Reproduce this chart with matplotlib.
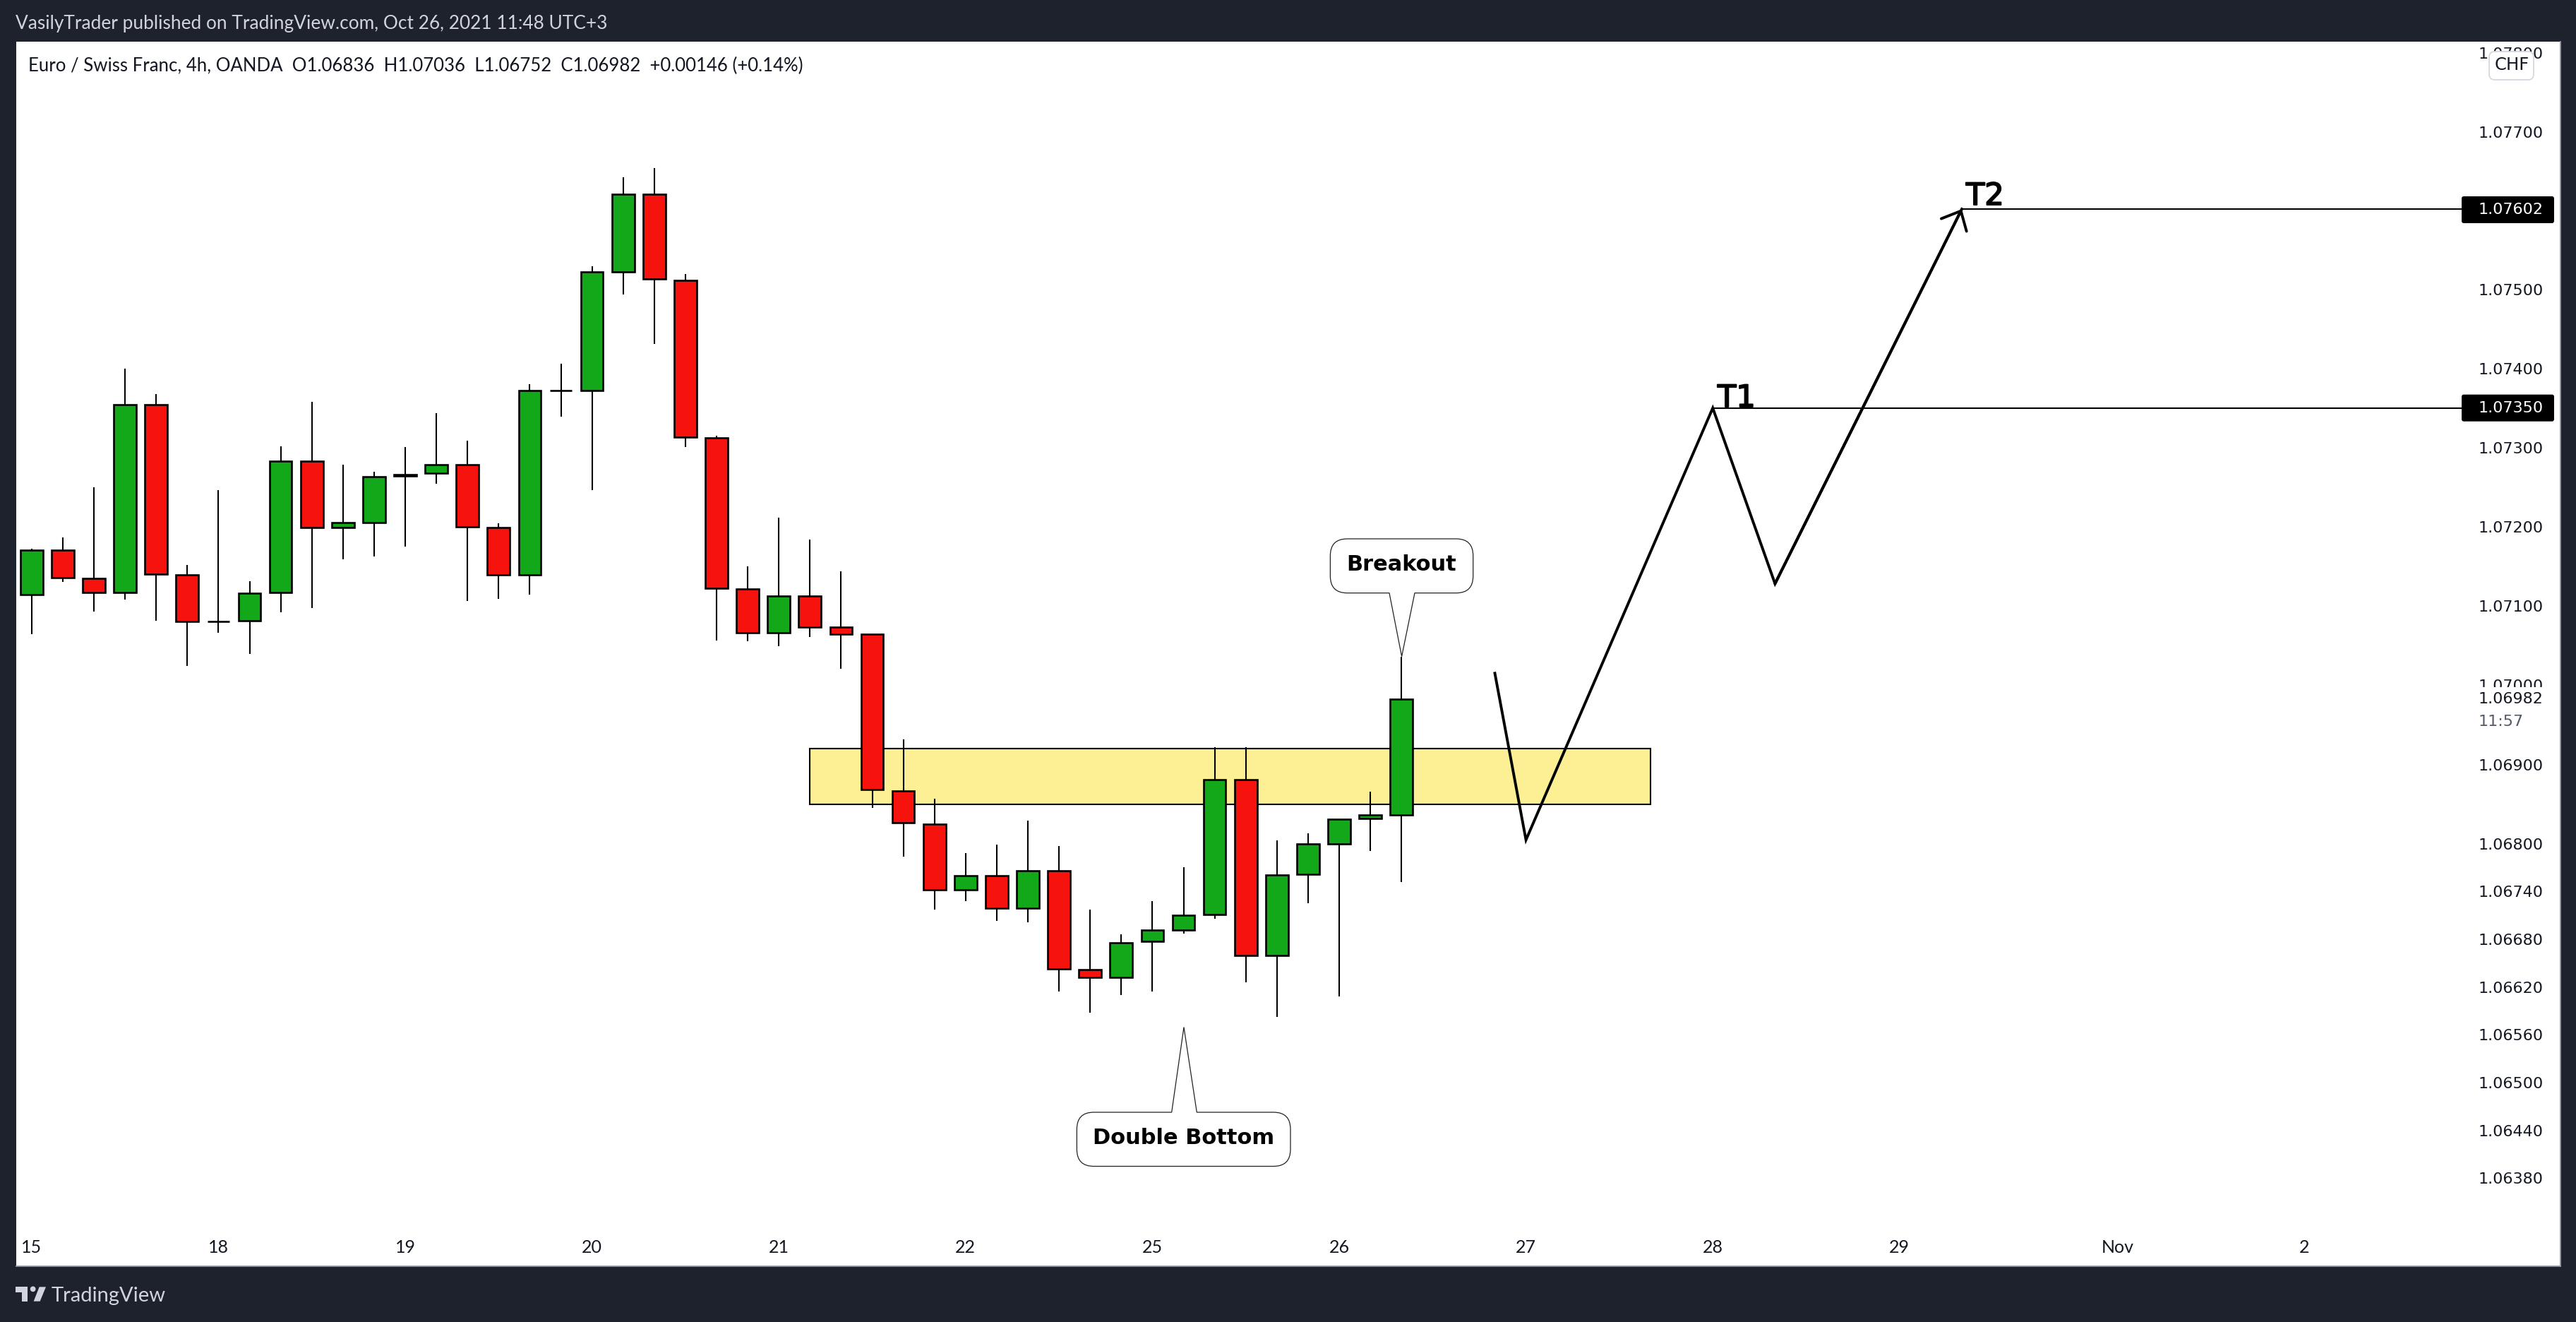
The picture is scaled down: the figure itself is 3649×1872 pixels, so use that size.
import numpy as np
import matplotlib
matplotlib.use("Agg")
import matplotlib.pyplot as plt
from matplotlib.path import Path
from matplotlib.patches import PathPatch, Rectangle, Polygon, Circle, FancyBboxPatch
from matplotlib.ticker import NullLocator
import matplotlib.patheffects as pe

# ---- data ----
opens  = [1.07114,1.07170,1.07135,1.07117,1.07354,1.07139,1.07080,1.07081,1.07117,1.07283,
          1.07199,1.07205,1.07264,1.07268,1.07278,1.07199,1.07139,1.07372,1.07372,1.07522,
          1.07621,1.07512,1.07312,1.07121,1.07066,1.07112,1.07073,1.07064,1.06867,1.06825,
          1.06742,1.06760,1.06719,1.06766,1.06642,1.06632,1.06677,1.06692,1.06711,1.06881,
          1.06660,1.06762,1.06800,1.06832,1.06836]
highs  = [1.07172,1.07186,1.07250,1.07400,1.07368,1.07152,1.07246,1.07131,1.07302,1.07358,
          1.07278,1.07269,1.07301,1.07344,1.07309,1.07204,1.07380,1.07406,1.07530,1.07642,
          1.07654,1.07520,1.07315,1.07150,1.07211,1.07184,1.07144,1.07064,1.06932,1.06857,
          1.06788,1.06799,1.06829,1.06797,1.06717,1.06686,1.06728,1.06771,1.06922,1.06922,
          1.06804,1.06813,1.06831,1.06866,1.07036]
lows   = [1.07064,1.07130,1.07093,1.07108,1.07081,1.07024,1.07066,1.07039,1.07092,1.07097,
          1.07159,1.07162,1.07175,1.07254,1.07106,1.07109,1.07114,1.07339,1.07246,1.07494,
          1.07431,1.07301,1.07056,1.07055,1.07049,1.07061,1.07021,1.06845,1.06784,1.06717,
          1.06728,1.06703,1.06701,1.06614,1.06588,1.06610,1.06614,1.06687,1.06706,1.06626,
          1.06582,1.06725,1.06608,1.06791,1.06752]
closes = [1.07170,1.07136,1.07117,1.07354,1.07140,1.07080,1.07080,1.07116,1.07283,1.07199,
          1.07205,1.07263,1.07266,1.07278,1.07200,1.07139,1.07372,1.07372,1.07522,1.07621,
          1.07513,1.07313,1.07122,1.07066,1.07112,1.07073,1.07064,1.06868,1.06827,1.06742,
          1.06760,1.06719,1.06766,1.06643,1.06632,1.06676,1.06692,1.06710,1.06881,1.06660,
          1.06761,1.06800,1.06831,1.06836,1.06982]

price_ticks  = [1.078,1.077,1.075,1.074,1.073,1.072,1.071,1.070,1.069,1.068,
                1.0674,1.0668,1.0662,1.0656,1.065,1.0644,1.0638]
price_labels = ["1.07800","1.07700","1.07500","1.07400","1.07300","1.07200","1.07100","1.07000",
                "1.06900","1.06800","1.06740","1.06680","1.06620","1.06560","1.06500","1.06440","1.06380"]
date_ticks  = [0,6,12,18,24,30,36,42,48,54,60,67,73]
date_labels = ["15","18","19","20","21","22","25","26","27","28","29","Nov","2"]

zone_x = [25, 52]
zone_price = [1.0685, 1.0692]
path_x = [47, 48, 54, 56, 62]
path_price = [1.07015, 1.06805, 1.0735, 1.07128, 1.07602]
target_prices = [1.0735, 1.07602]
target_starts = [54, 62]

# ---- layout ----
W, H = 3649, 1872
DARK = "#1E222D"; TXT = "#131722"; LIGHT = "#D1D4DC"
GREEN = "#12A81A"; RED = "#F7130D"
UI = "Lato"

fig = plt.figure(figsize=(W/100, H/100), dpi=100, facecolor=DARK)
L, R, T, B = 22.5, 3627.0, 59.0, 1793.0
ax = fig.add_axes([L/W, 1-B/H, (R-L)/W, (B-T)/H], facecolor="white")

# axis calibration: x in bar index, y logarithmic
x0, step = 44.8, 44.1
ax.set_xlim((L-x0)/step, (R-x0)/step)
k = (1668.4-186.7)/np.log(1.077/1.0638)
ax.set_yscale("log")
ax.set_ylim(1.0638*np.exp(-(B-1668.4)/k), 1.077*np.exp((186.7-T)/k))

# zone
ax.add_patch(Rectangle((zone_x[0], zone_price[0]), zone_x[1]-zone_x[0], zone_price[1]-zone_price[0],
                       fc="#FDF094", ec="black", lw=1.5, zorder=1))

# candles
idx = np.arange(len(opens))
o, h, l, c = map(np.array, (opens, highs, lows, closes))
ax.vlines(idx, l, h, color="black", lw=1.5, zorder=2)
up = c > o
cols = np.where(up, GREEN, RED)
ax.bar(idx, np.abs(c-o), bottom=np.minimum(o, c), width=0.72, color=cols,
       edgecolor="black", linewidth=1.9, zorder=3)

# projected path
ax.plot(path_x, path_price, color="black", lw=2.8, solid_joinstyle="miter", zorder=4)
ax.annotate("", xy=(path_x[-1], path_price[-1]), xytext=(path_x[-2], path_price[-2]),
            arrowprops=dict(arrowstyle="->,head_length=1.0,head_width=0.9", mutation_scale=16,
                            lw=2.8, color="black", shrinkA=0, shrinkB=0), zorder=4)
# target lines
x_end = (3487-x0)/step
ax.hlines(target_prices, target_starts, x_end, color="black", lw=1.5, zorder=4)

# ticks
ax.set_yticks(price_ticks, labels=price_labels)
ax.yaxis.set_minor_locator(NullLocator())
ax.yaxis.tick_right()
ax.tick_params(axis="y", which="both", length=0, pad=-84, labelsize=16, labelcolor=TXT)
ax.set_xticks(date_ticks, labels=date_labels)
ax.tick_params(axis="x", length=0, pad=-27, labelsize=18, labelcolor=TXT)
for t in ax.get_xticklabels():
    t.set_fontfamily(UI)
for n, s in ax.spines.items():
    s.set_visible(n in ("right", "bottom"))
    s.set_color("#9598A1"); s.set_linewidth(1.3)

# overlay in pixel coordinates for interface furniture and callouts
ov = fig.add_axes([0, 0, 1, 1], facecolor="none")
ov.set_xlim(0, W); ov.set_ylim(H, 0); ov.axis("off")

ov.text(22, 34, "VasilyTrader published on TradingView.com, Oct 26, 2021 11:48 UTC+3",
        color=LIGHT, fontsize=18.9, family=UI, va="center", ha="left")
ov.text(40, 93, "Euro / Swiss Franc, 4h, OANDA  O1.06836  H1.07036  L1.06752  C1.06982  +0.00146 (+0.14%)",
        color=TXT, fontsize=18.5, family=UI, va="center", ha="left")

# CHF button
ov.add_patch(FancyBboxPatch((3532, 79), 51, 28, boxstyle="round,pad=6,rounding_size=8",
                            fc="white", ec="#D6D8E0", lw=1.3, zorder=5))
ov.text(3558, 92, "CHF", fontsize=17.5, color=TXT, ha="center", va="center", zorder=6)

# last-price label
ov.add_patch(Rectangle((3490, 973), 130, 66, fc="white", ec="none", zorder=5))
ov.text(3510.7, 990, "1.06982", fontsize=16, color=TXT, ha="left", va="center", zorder=6)
ov.text(3510.7, 1022, "11:57", fontsize=16, color="#555B66", ha="left", va="center", zorder=6)

# target labels
for yc, lab in ((297, "1.07602"), (577.7, "1.07350")):
    ov.add_patch(FancyBboxPatch((3490, yc-16), 125, 32, boxstyle="round,pad=3,rounding_size=3",
                                fc="black", ec="none", zorder=5))
    ov.text(3511, yc, lab, fontsize=16, color="white", ha="left", va="center", zorder=6)

# T1, T2
for (xt, yt, s) in ((2433, 576, "T1"), (2785, 290, "T2")):
    ov.text(xt, yt, s, fontsize=31, color="black", ha="left", va="baseline",
            path_effects=[pe.withStroke(linewidth=1.4, foreground="black")], zorder=6)

def callout(x0_, y0_, x1_, y1_, b0, b1, tx, ty, tail_top, label, cx, cy):
    r = 24
    v = [(x0_+r, y0_)]; cd = [Path.MOVETO]
    if tail_top:
        v += [(b0, y0_), (tx, ty), (b1, y0_)]; cd += [Path.LINETO]*3
    v += [(x1_-r, y0_), (x1_, y0_), (x1_, y0_+r)]; cd += [Path.LINETO, Path.CURVE3, Path.CURVE3]
    v += [(x1_, y1_-r), (x1_, y1_), (x1_-r, y1_)]; cd += [Path.LINETO, Path.CURVE3, Path.CURVE3]
    if not tail_top:
        v += [(b1, y1_), (tx, ty), (b0, y1_)]; cd += [Path.LINETO]*3
    v += [(x0_+r, y1_), (x0_, y1_), (x0_, y1_-r)]; cd += [Path.LINETO, Path.CURVE3, Path.CURVE3]
    v += [(x0_, y0_+r), (x0_, y0_), (x0_+r, y0_)]; cd += [Path.LINETO, Path.CURVE3, Path.CURVE3]
    ov.add_patch(PathPatch(Path(v, cd), fc="white", ec="#222222", lw=0.9, zorder=5))
    ov.text(cx, cy, label, fontsize=22, fontweight="bold", color="black", ha="center", va="center", zorder=6)

callout(1884.4, 763, 2086.7, 839.7, 1968, 2004, 1985.6, 929.6, False, "Breakout", 1985.6, 799)
callout(1525.4, 1575, 1828, 1651.5, 1659.7, 1695.3, 1677, 1454.5, True, "Double Bottom", 1677, 1612)

# TradingView logo and name
def lp(vx, vy):
    return (10+vx/3, 1810+vy/3)
ov.add_patch(Polygon([lp(37,37), lp(88,37), lp(88,98), lp(63,98), lp(63,60), lp(37,60)], fc=LIGHT, ec="none"))
ov.add_patch(Circle(lp(110,46), 11/3*1.05, fc=LIGHT, ec="none"))
ov.add_patch(Polygon([lp(137,37), lp(165,37), lp(140,98), lp(113,98)], fc=LIGHT, ec="none"))
ov.text(73, 1843, "TradingView", color=LIGHT, fontsize=21, family=UI, va="baseline", ha="left")

fig.savefig("out.png", dpi=100, facecolor=DARK)
